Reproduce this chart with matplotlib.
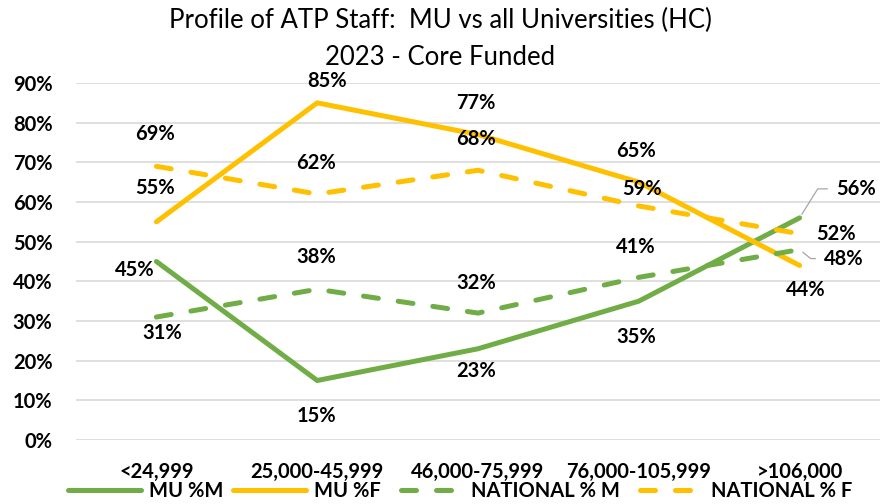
import matplotlib
matplotlib.use("Agg")
import matplotlib.pyplot as plt
from matplotlib.ticker import PercentFormatter

plt.rcParams['font.family'] = ['Lato', 'DejaVu Sans']

# data
categories = ['<24,999', '25,000-45,999', '46,000-75,999', '76,000-105,999', '>106,000']
mu_m = [0.45, 0.15, 0.23, 0.35, 0.56]
mu_f = [0.55, 0.85, 0.77, 0.65, 0.44]
nat_m = [0.31, 0.38, 0.32, 0.41, 0.48]
nat_f = [0.69, 0.62, 0.68, 0.59, 0.52]
yticks = [0, 0.1, 0.2, 0.3, 0.4, 0.5, 0.6, 0.7, 0.8, 0.9]

# label offsets in pixels (dx, dy), picked by eye
off_mu_m = [(-22, -9), (-1, -35), (-2, -22), (-3, -36), (56, 29)]
off_mu_f = [(-1, 34), (10, 22), (-2, 32), (-3, 31), (6, -25)]
off_nat_m = [(6, -16), (-1, 32), (-2, 30), (-3, 30), (44, -9)]
off_nat_f = [(-1, 32), (-1, 31), (-2, 31), (3, 17), (36, 0)]

GREEN = '#70AD47'
GOLD = '#FFC000'

fig = plt.figure(figsize=(8.8, 5.04), dpi=100)
ax = fig.add_axes([76 / 880, 64 / 504, 804 / 880, 357 / 504])

x = range(len(categories))
lw = 3.6
ax.plot(x, mu_m, color=GREEN, lw=lw, label='MU %M', solid_capstyle='round')
ax.plot(x, mu_f, color=GOLD, lw=lw, label='MU %F', solid_capstyle='round')
ax.plot(x, nat_m, color=GREEN, lw=lw, ls=(0, (3, 4)), dash_capstyle='round',
        label='NATIONAL % M')
ax.plot(x, nat_f, color=GOLD, lw=lw, ls=(0, (3, 4)), dash_capstyle='round',
        label='NATIONAL % F')

lbl = dict(fontsize=14.5, fontweight='bold', ha='center', va='center',
           textcoords='offset pixels')
for vals, offs in [(mu_m, off_mu_m), (mu_f, off_mu_f), (nat_m, off_nat_m), (nat_f, off_nat_f)]:
    for i, (v, o) in enumerate(zip(vals, offs)):
        if (vals is mu_m or vals is nat_m) and i == 4:
            continue
        ax.annotate(f'{v:.0%}', (i, v), xytext=o, **lbl)

# last points with leader lines
ax.annotate(f'{mu_m[4]:.0%}', (4, mu_m[4]), xytext=off_mu_m[4], **lbl,
            arrowprops=dict(arrowstyle='-', color='#A6A6A6', lw=0.9, relpos=(0, 0.5),
                            connectionstyle='angle,angleA=0,angleB=58,rad=0',
                            shrinkA=4, shrinkB=3))
ax.annotate(f'{nat_m[4]:.0%}', (4, nat_m[4]), xytext=off_nat_m[4], **lbl,
            arrowprops=dict(arrowstyle='-', color='#A6A6A6', lw=0.9, relpos=(0, 0.5),
                            connectionstyle='angle,angleA=0,angleB=-39,rad=0',
                            shrinkA=4, shrinkB=3))

ax.set_xlim(-0.5, len(categories) - 0.5)
ax.set_ylim(0, 0.9)
ax.set_yticks(yticks)
ax.yaxis.set_major_formatter(PercentFormatter(1.0, decimals=0))
ax.set_xticks(list(x))
ax.set_xticklabels(categories)
ax.tick_params(axis='both', length=0, labelsize=14.5)
ax.tick_params(axis='y', pad=17)
ax.tick_params(axis='x', pad=16)
for t in ax.get_xticklabels() + ax.get_yticklabels():
    t.set_fontweight('bold')
ax.grid(axis='y', color='#D9D9D9', lw=1.2)
ax.set_axisbelow(True)
for s in ax.spines.values():
    s.set_visible(False)

fig.text(0.5, 1 - 38.5 / 504, 'Profile of ATP Staff:  MU vs all Universities (HC)\n2023 - Core Funded',
         ha='center', va='center', fontsize=18.5, linespacing=1.6)

leg = fig.legend(loc='center', bbox_to_anchor=(460 / 880, 13 / 504), ncol=4, frameon=False,
                 handlelength=3.6, columnspacing=0.5, handletextpad=0.4,
                 prop=dict(size=14.5, weight='bold'))
# start dashed legend handles in a gap so only two dashes show
for h in leg.get_lines()[2:]:
    h.set_linestyle((5, (3, 4)))

fig.savefig('out.png', dpi=100)
